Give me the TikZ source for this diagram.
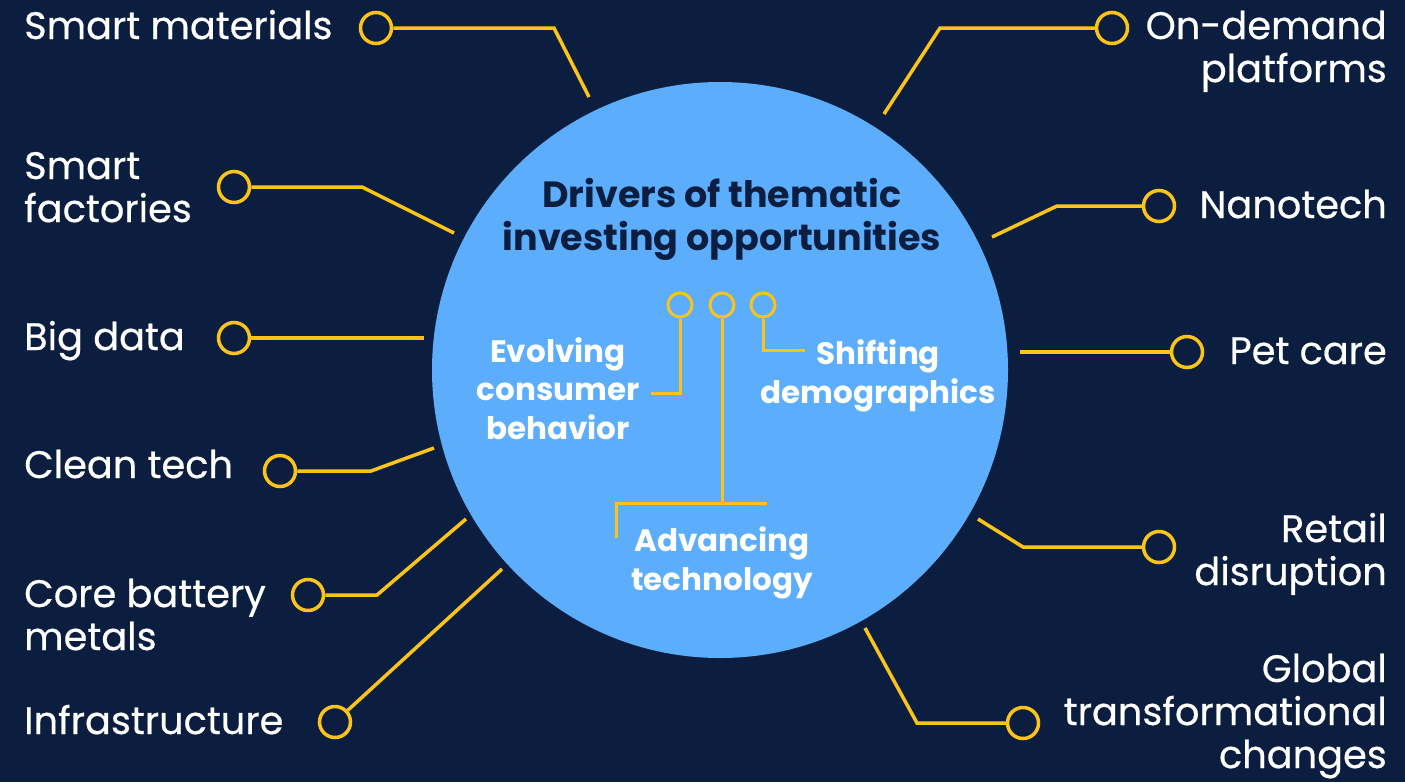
\documentclass[tikz,border=0pt]{standalone}
\usepackage{fontspec}
\setmainfont{Poppins}
\newfontfamily\medfont{Poppins}[FakeBold=0.5]
\definecolor{bg}{HTML}{0B1E3F}
\definecolor{disc}{HTML}{5CADFC}
\definecolor{ylw}{HTML}{FCC419}
\tikzset{
  lbl/.style={text=white, font=\medfont\fontsize{38.3}{43}\selectfont, inner sep=0pt},
  inlbl/.style={text=white, font=\fontsize{31}{38.5}\selectfont\bfseries, inner sep=0pt, align=center},
  dot/.style={circle, draw=ylw, fill=bg, line width=3.5pt, minimum size=31pt, inner sep=0pt},
  idot/.style={circle, draw=ylw, fill=disc, line width=3pt, minimum size=24pt, inner sep=0pt},
  conn/.style={draw=ylw, line width=3.5pt},
}
\begin{document}
\begin{tikzpicture}[x=1pt,y=-1pt]
\fill[bg] (0,0) rectangle (1405,782);
\useasboundingbox (0,0) rectangle (1405,782);
\node[circle, fill=disc, minimum size=576pt, inner sep=0pt] (hub) at (720,370) {};
% title (anchor = baseline of last line)
\node[text=bg, font=\fontsize{36.5}{43}\selectfont\bfseries, inner sep=0pt, align=center, anchor=base] (title) at (722,250) {Drivers of thematic\\investing opportunities};
% left labels
\node[lbl, anchor=base west, align=left] (l1) at (24,39) {Smart materials};
\node[lbl, anchor=base west, align=left] (l2) at (24,222) {Smart\\factories};
\node[lbl, anchor=base west, align=left] (l3) at (24,350) {Big data};
\node[lbl, anchor=base west, align=left] (l4) at (24,478) {Clean tech};
\node[lbl, anchor=base west, align=left] (l5) at (24,650) {Core battery\\metals};
\node[lbl, anchor=base west, align=left] (l6) at (24,734) {Infrastructure};
% right labels
\node[lbl, anchor=base east, align=right] (r1) at (1387,82) {On-demand\\platforms};
\node[lbl, anchor=base east, align=right] (r2) at (1387,218) {Nanotech};
\node[lbl, anchor=base east, align=right] (r3) at (1387,364) {Pet care};
\node[lbl, anchor=base east, align=right] (r4) at (1387,585) {Retail\\disruption};
\node[lbl, anchor=base east, align=right] (r5) at (1387,768) {Global\\transformational\\changes};
% outer dots
\node[dot] (dl1) at (376,28) {};
\node[dot] (dl2) at (234,187) {};
\node[dot] (dl3) at (234,338) {};
\node[dot] (dl4) at (280,471) {};
\node[dot] (dl5) at (308,595) {};
\node[dot] (dl6) at (335,722) {};
\node[dot] (dr1) at (1112,28) {};
\node[dot] (dr2) at (1159,206) {};
\node[dot] (dr3) at (1187,352) {};
\node[dot] (dr4) at (1159,547) {};
\node[dot] (dr5) at (1023,723) {};
% bends and ends
\coordinate (kl1) at (554,28); \coordinate (el1) at (589,97);
\coordinate (kl2) at (362,187); \coordinate (el2) at (454,233);
\coordinate (el3) at (424,338);
\coordinate (kl4) at (371,471); \coordinate (el4) at (434,448);
\coordinate (kl5) at (377,595); \coordinate (el5) at (466,519);
\coordinate (el6) at (502,569);
\coordinate (kr1) at (940,28); \coordinate (er1) at (884,114);
\coordinate (kr2) at (1057,206); \coordinate (er2) at (992,237);
\coordinate (er3) at (1020,352);
\coordinate (kr4) at (1023,547); \coordinate (er4) at (978,519);
\coordinate (kr5) at (917,723); \coordinate (er5) at (865,628);
\draw[conn] (dl1) -- (kl1) -- (el1);
\draw[conn] (dl2) -- (kl2) -- (el2);
\draw[conn] (dl3) -- (el3);
\draw[conn] (dl4) -- (kl4) -- (el4);
\draw[conn] (dl5) -- (kl5) -- (el5);
\draw[conn] (dl6) -- (el6);
\draw[conn] (dr1) -- (kr1) -- (er1);
\draw[conn] (dr2) -- (kr2) -- (er2);
\draw[conn] (dr3) -- (er3);
\draw[conn] (dr4) -- (kr4) -- (er4);
\draw[conn] (dr5) -- (kr5) -- (er5);
% inner
\node[idot] (i1) at (680,305) {};
\node[idot] (i2) at (722,305) {};
\node[idot] (i3) at (763,305) {};
\coordinate (ki1) at (680,393); \coordinate (ei1) at (651,393);
\coordinate (ki2) at (722,503); \coordinate (ha) at (616,503); \coordinate (hb) at (767,503); \coordinate (hc) at (616,538);
\coordinate (ki3) at (763,350); \coordinate (ei3) at (805,350);
\draw[conn, line width=3pt] (i1) -- (ki1) -- (ei1);
\draw[conn, line width=3pt] (i2) -- (ki2);
\draw[conn, line width=3pt] (hc) -- (ha) -- (hb);
\draw[conn, line width=3pt] (i3) -- (ki3) -- (ei3);
\node[inlbl, anchor=base] (evo) at (558,439) {Evolving\\consumer\\behavior};
\node[inlbl, anchor=base] (shi) at (878,403) {Shifting\\demographics};
\node[inlbl, anchor=base] (adv) at (722,590) {Advancing\\technology};
\end{tikzpicture}
\end{document}
